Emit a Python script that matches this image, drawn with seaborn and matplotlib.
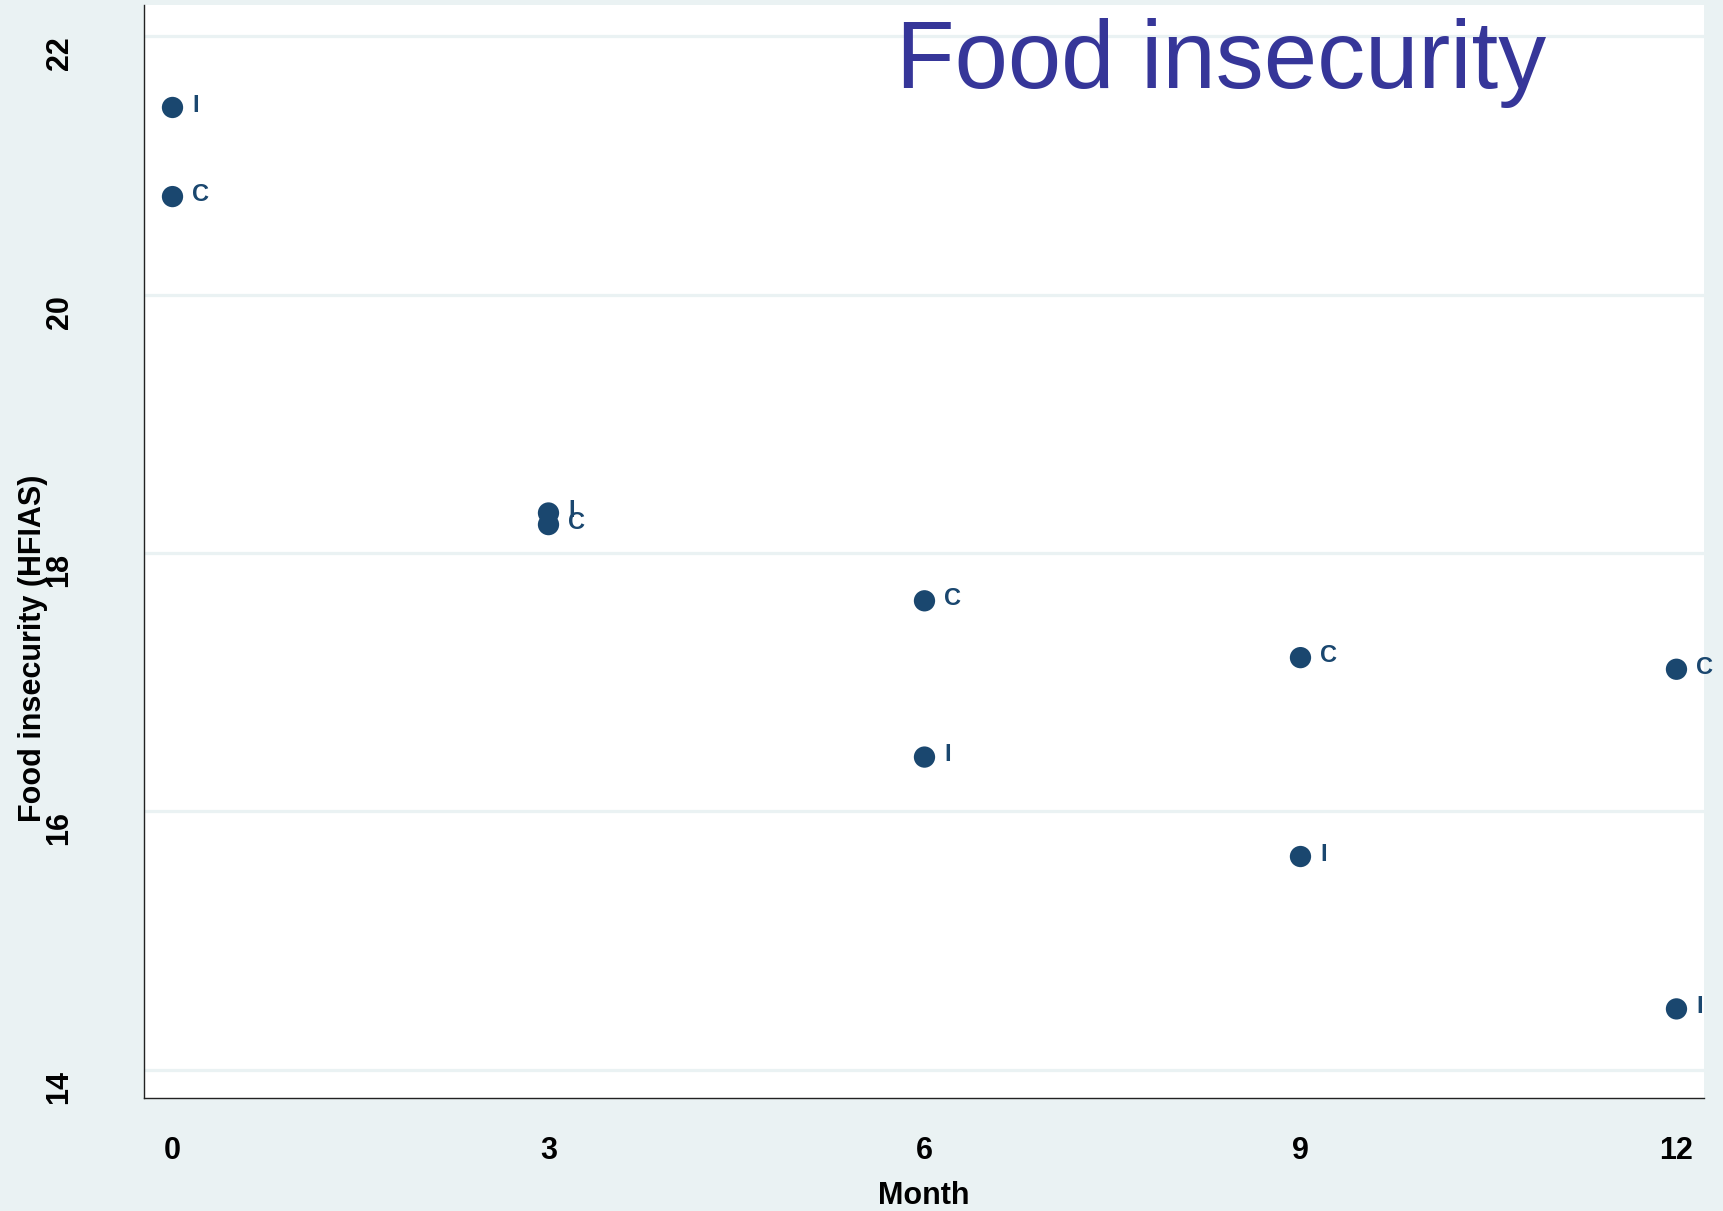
import matplotlib
matplotlib.use("Agg")
import matplotlib.pyplot as plt
import seaborn as sns
import pandas as pd

# HFIAS means by study month for each arm
months = [0, 3, 6, 9, 12]
intervention = [21.45, 18.31, 16.42, 15.65, 14.47]
control = [20.76, 18.22, 17.63, 17.19, 17.10]
arm_labels = ["I", "C"]

x_ticks = [0, 3, 6, 9, 12]
y_ticks = [14, 16, 18, 20, 22]

df = pd.concat([
    pd.DataFrame({"month": months, "hfias": intervention, "arm": arm_labels[0]}),
    pd.DataFrame({"month": months, "hfias": control, "arm": arm_labels[1]}),
], ignore_index=True)

sns.set_theme(style="white")
plt.rcParams["font.family"] = ["Liberation Sans", "DejaVu Sans"]

bg = "#eaf2f3"
navy = "#1a476f"

fig = plt.figure(figsize=(17.23, 12.11), dpi=100, facecolor=bg)
ax = fig.add_axes([0.0836, 0.0933, 0.9054, 0.9022])
ax.set_facecolor("white")

sns.scatterplot(data=df, x="month", y="hfias", color=navy, s=235,
                edgecolor="none", linewidth=0, legend=False, ax=ax, zorder=3)

for _, row in df.iterrows():
    ax.annotate(row["arm"], (row["month"], row["hfias"]), xytext=(14, 1.5),
                textcoords="offset points", ha="left", va="center",
                fontsize=17, fontweight="bold", color=navy,
                annotation_clip=False, zorder=4)

ax.set_xlim(-0.227, 12.22)
ax.set_ylim(13.78, 22.24)
ax.set_xticks(x_ticks)
ax.set_yticks(y_ticks)

ax.yaxis.grid(True, color=bg, linewidth=2.3)
ax.xaxis.grid(False)
ax.set_axisbelow(True)

for side in ["top", "right"]:
    ax.spines[side].set_visible(False)
for side in ["left", "bottom"]:
    ax.spines[side].set_color("#222222")
    ax.spines[side].set_linewidth(1.0)

ax.tick_params(axis="both", which="major", direction="out", length=13,
               width=1.0, color="#333333", labelsize=22, labelcolor="black")
ax.tick_params(axis="x", pad=14)
ax.tick_params(axis="y", pad=37)
for lab in ax.get_yticklabels():
    lab.set_rotation(90)
    lab.set_va("top")
    lab.set_ha("right")
    lab.set_fontweight("bold")
for lab in ax.get_xticklabels():
    lab.set_fontweight("bold")

ax.set_xlabel("Month", fontsize=22, fontweight="bold", color="black")
ax.set_ylabel("Food insecurity (HFIAS)", fontsize=22, fontweight="bold", color="black")
ax.xaxis.set_label_coords(0.5, -0.076)
ax.yaxis.set_label_coords(-0.0615, 0.412)

fig.text(0.52, 0.9273, "Food insecurity", fontsize=69, color="#363699",
         ha="left", va="baseline")

fig.savefig("out.png", dpi=100, facecolor=bg)
